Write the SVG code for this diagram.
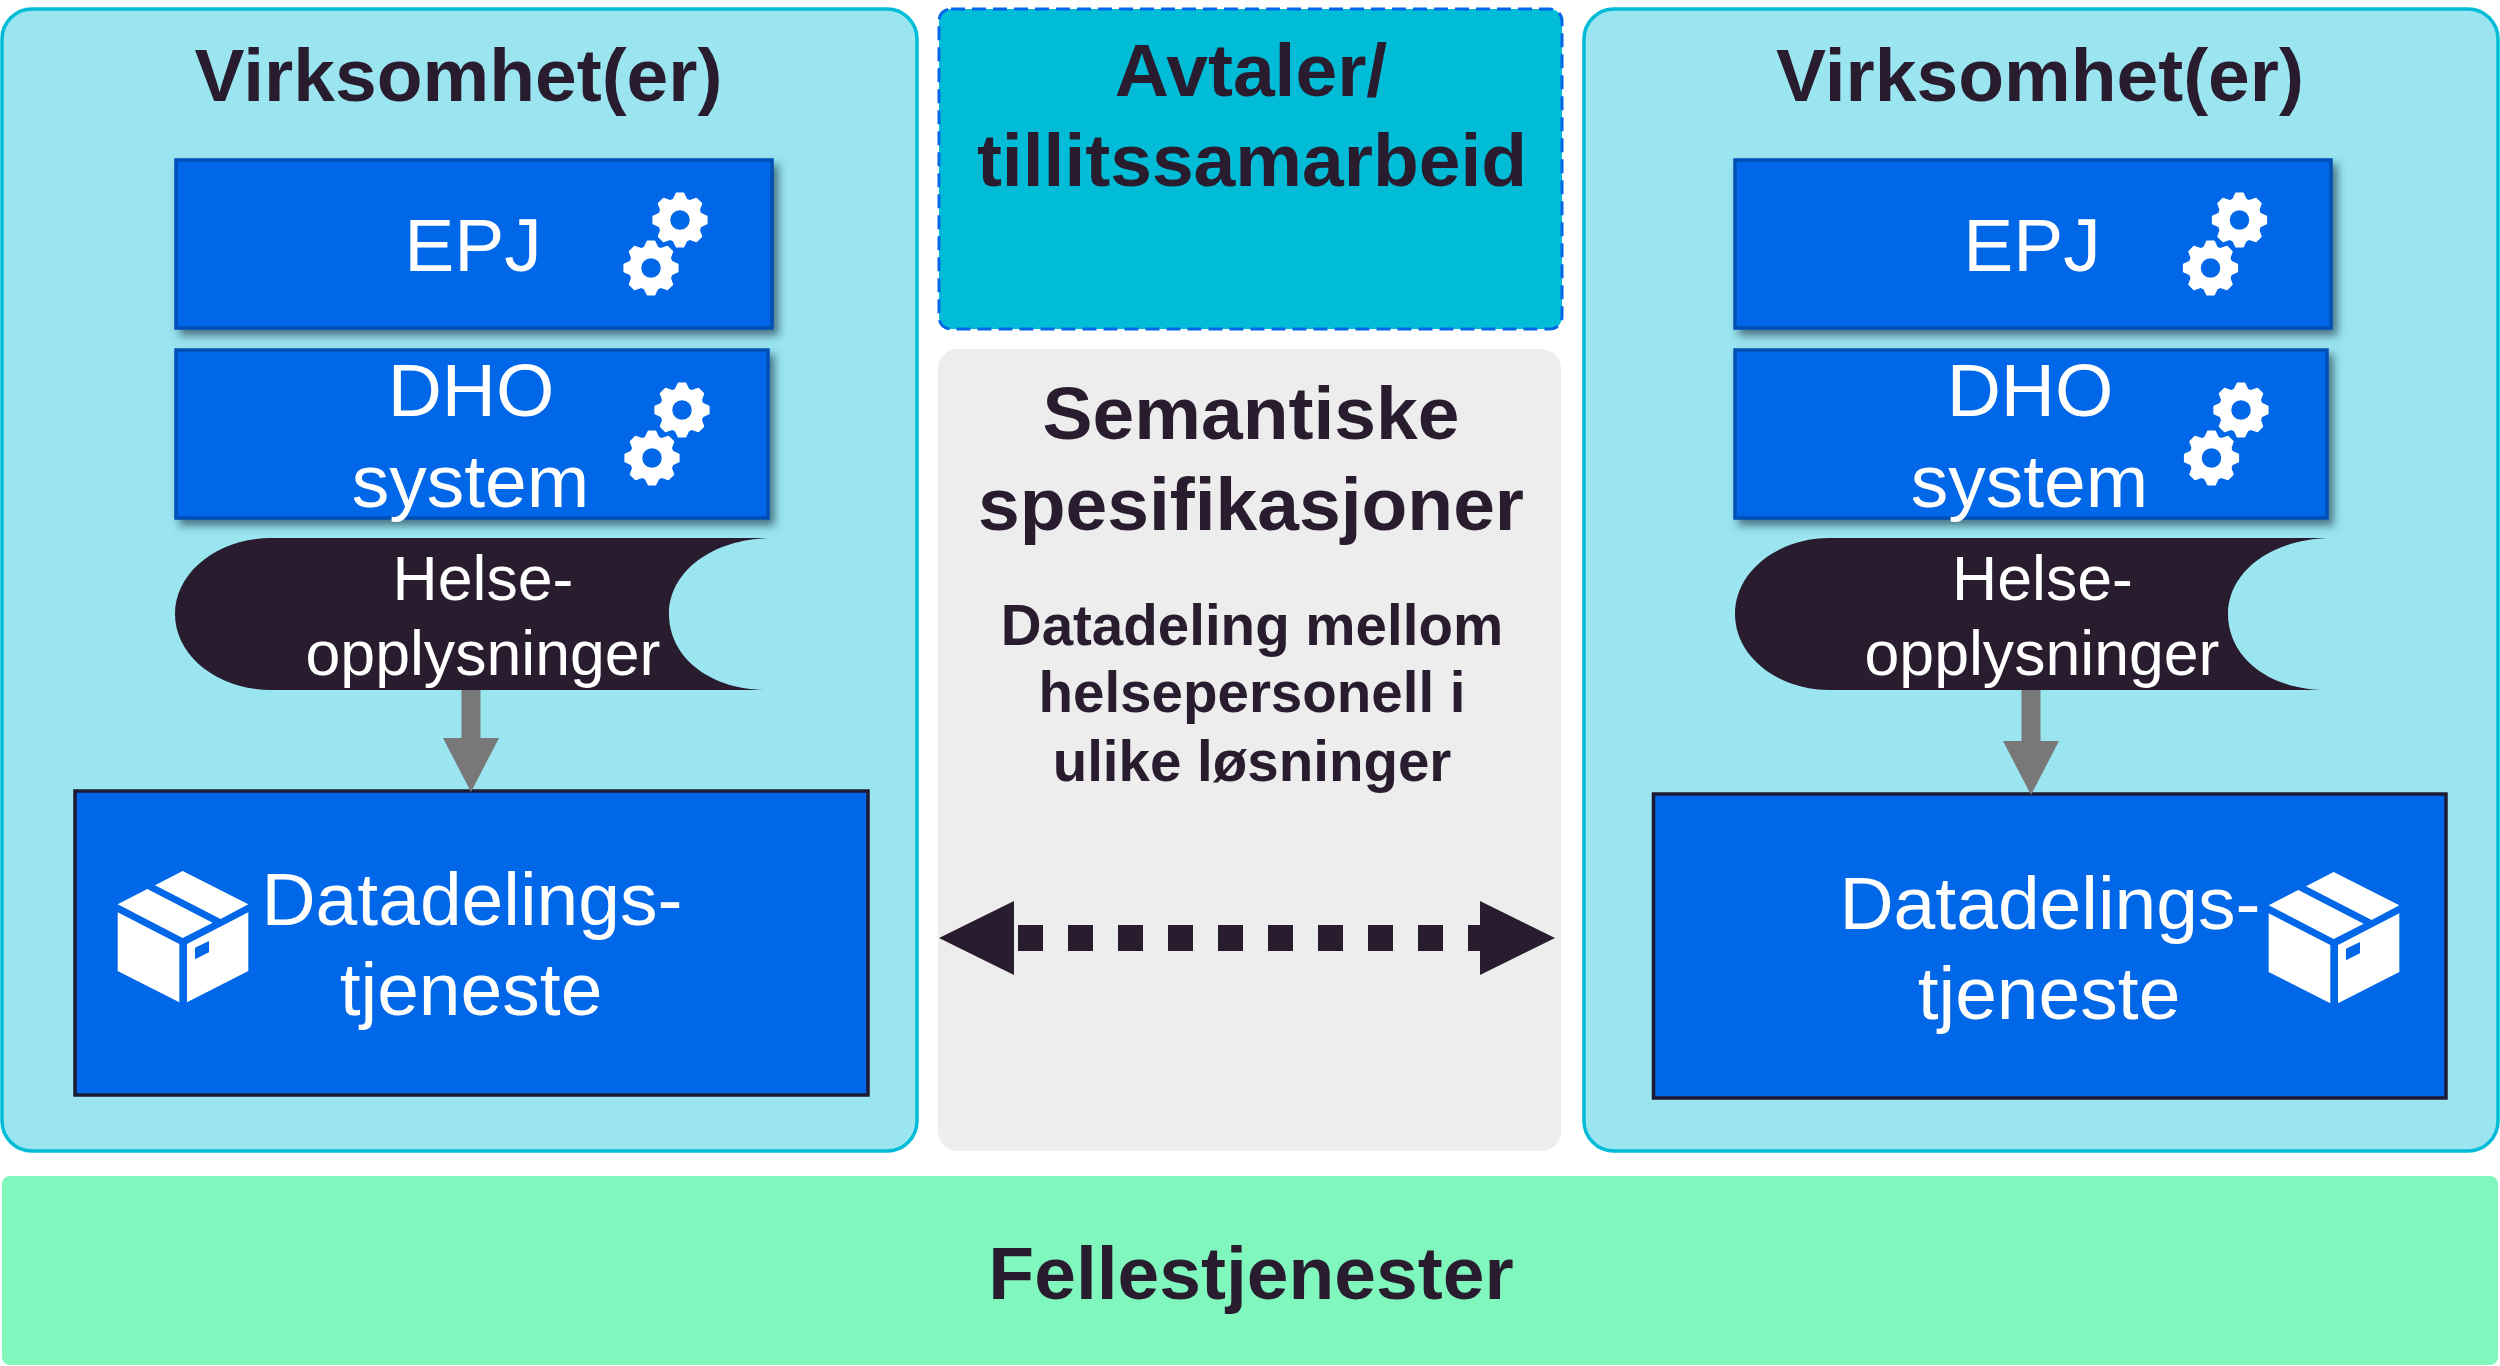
<svg xmlns="http://www.w3.org/2000/svg" xmlns:xlink="http://www.w3.org/1999/xlink" width="2500" height="1366" viewBox="0 0 2500 1366">
<style>
text{font-family:"Liberation Sans",Arial,sans-serif;text-anchor:middle}
.h{font-weight:700;font-size:75px;fill:#281C2E}
.s{font-weight:700;font-size:56.5px;fill:#281C2E}
.w{fill:#fff;font-size:75px}
.m{fill:#fff;font-size:62.6px}
.panel{fill:#9BE5F0;stroke:#00BCD6;stroke-width:3.5}
.sys{fill:#0068E8;stroke:#0050B4;stroke-width:3.5;filter:url(#sh)}
.svc{fill:#0068E8;stroke:#1E1A33;stroke-width:3.5}
.data{fill:#281C2E}
</style>
<defs>
<filter id="sh" x="-5%" y="-10%" width="110%" height="125%"><feDropShadow dx="5" dy="6" stdDeviation="4" flood-color="#1a3a50" flood-opacity="0.65"/></filter>
<path id="tooth" d="M-7,-20 L-3.6,-27 H3.6 L7,-20Z" fill="#fff" stroke="#fff" stroke-width="1.2" stroke-linejoin="round"/>
<g id="gear">
<circle r="16" fill="none" stroke="#fff" stroke-width="12.5"/>
<use xlink:href="#tooth" href="#tooth"/>
<use xlink:href="#tooth" href="#tooth" transform="rotate(45)"/>
<use xlink:href="#tooth" href="#tooth" transform="rotate(90)"/>
<use xlink:href="#tooth" href="#tooth" transform="rotate(135)"/>
<use xlink:href="#tooth" href="#tooth" transform="rotate(180)"/>
<use xlink:href="#tooth" href="#tooth" transform="rotate(225)"/>
<use xlink:href="#tooth" href="#tooth" transform="rotate(270)"/>
<use xlink:href="#tooth" href="#tooth" transform="rotate(315)"/>
</g>
<path id="pkg" fill="#fff" fill-rule="evenodd" d="M248,63 L445,163 L362,207 L165,106Z M142,117 L338,218 L248,264 L53,163Z M53,187 L238,282 V457 L53,363Z M445,187 V363 L261,457 V282Z M285,293 V328 L327,307 V273Z"/>
<marker id="hl" markerUnits="userSpaceOnUse" markerWidth="76" markerHeight="76" viewBox="0 0 76 76" refX="75" refY="38" orient="0"><path d="M0,38 L75,1 V75Z" fill="#281C2E"/></marker>
<marker id="hr" markerUnits="userSpaceOnUse" markerWidth="76" markerHeight="76" viewBox="0 0 76 76" refX="0" refY="38" orient="0"><path d="M0,1 L75,38 L0,75Z" fill="#281C2E"/></marker>
<marker id="hg" markerUnits="userSpaceOnUse" markerWidth="56" markerHeight="54" viewBox="0 0 56 54" refX="28" refY="0" orient="0"><path d="M0,0 H56 L28,54Z" fill="#787878"/></marker>
</defs>
<rect width="2500" height="1366" fill="#fff"/>

<g id="panel-left">
<rect class="panel" x="2" y="9" width="915" height="1142" rx="30" ry="30"/>
<text class="h" x="458.5" y="101">Virksomhet(er)</text>
</g>
<g id="panel-right">
<rect class="panel" x="1584" y="9" width="914" height="1142" rx="30" ry="30"/>
<text class="h" x="2040" y="101">Virksomhet(er)</text>
</g>
<g id="avtaler">
<rect x="939" y="9" width="623" height="320" rx="12" fill="#00BCD6" stroke="#0068E8" stroke-width="3" stroke-dasharray="14 7"/>
<text class="h" x="1251" y="96">Avtaler/</text>
<text class="h" x="1252" y="186">tillitssamarbeid</text>
</g>
<g id="semantiske">
<rect x="938" y="349" width="623" height="802" rx="20" fill="#EDEDED"/>
<text class="h" x="1251" y="439">Semantiske</text>
<text class="h" x="1251" y="530">spesifikasjoner</text>
<text class="s" x="1252" y="645">Datadeling mellom</text>
<text class="s" x="1252" y="712">helsepersonell i</text>
<text class="s" x="1252" y="781">ulike løsninger</text>
</g>
<g id="fellestjenester">
<rect x="2" y="1176" width="2496" height="189" rx="8" fill="#7FF7BD"/>
<text class="h" x="1251" y="1299">Fellestjenester</text>
</g>

<g id="epj-left">
<rect class="sys" x="176" y="160" width="596" height="168"/>
<text class="w" x="473" y="271">EPJ</text>
<use xlink:href="#gear" href="#gear" x="680" y="220"/>
<use xlink:href="#gear" href="#gear" x="651" y="268"/>
</g>
<g id="dho-left">
<rect class="sys" x="176" y="350" width="592" height="168"/>
<text class="w" x="471" y="416">DHO</text>
<text class="w" x="470.500" y="507">system</text>
<use xlink:href="#gear" href="#gear" x="682" y="410"/>
<use xlink:href="#gear" href="#gear" x="652" y="458"/>
</g>
<g id="helse-left">
<path class="data" d="M271,538 H774 C712,538 669,572 669,614 C669,656 708,690 768,690 H271 C218,690 175,656 175,614 C175,572 218,538 271,538Z"/>
<text class="m" x="483" y="600">Helse-</text>
<text class="m" x="483" y="675">opplysninger</text>
</g>
<g id="datadeling-left">
<rect class="svc" x="75" y="791" width="793" height="304"/>
<text class="w" x="472" y="925">Datadelings-</text>
<text class="w" x="471" y="1015">tjeneste</text>
<use xlink:href="#pkg" href="#pkg" transform="translate(100,850) scale(.3333)"/>
</g>

<g id="epj-right">
<rect class="sys" x="1735" y="160" width="596" height="168"/>
<text class="w" x="2032" y="271">EPJ</text>
<use xlink:href="#gear" href="#gear" x="2239.500" y="220"/>
<use xlink:href="#gear" href="#gear" x="2210.500" y="268"/>
</g>
<g id="dho-right">
<rect class="sys" x="1735" y="350" width="592" height="168"/>
<text class="w" x="2030" y="416">DHO</text>
<text class="w" x="2029.500" y="507">system</text>
<use xlink:href="#gear" href="#gear" x="2241" y="410"/>
<use xlink:href="#gear" href="#gear" x="2211.500" y="458"/>
</g>
<g id="helse-right">
<path class="data" d="M1830,538 H2333 C2271,538 2228,572 2228,614 C2228,656 2267,690 2327,690 H1830 C1777,690 1735,656 1735,614 C1735,572 1777,538 1830,538Z"/>
<text class="m" x="2042.500" y="600">Helse-</text>
<text class="m" x="2042" y="675">opplysninger</text>
</g>
<g id="datadeling-right">
<rect class="svc" x="1653.500" y="794" width="792.500" height="304"/>
<text class="w" x="2050" y="929">Datadelings-</text>
<text class="w" x="2049" y="1019">tjeneste</text>
<use xlink:href="#pkg" href="#pkg" transform="translate(2251,851) scale(.3333)"/>
</g>

<g id="connectors">
<line x1="471" y1="690" x2="471" y2="738" stroke="#787878" stroke-width="19" marker-end="url(#hg)"/>
<line x1="2031" y1="690" x2="2031" y2="741" stroke="#787878" stroke-width="19" marker-end="url(#hg)"/>
<line x1="1014" y1="938" x2="1480" y2="938" stroke="#281C2E" stroke-width="26" stroke-dasharray="25 25" stroke-dashoffset="46" marker-start="url(#hl)" marker-end="url(#hr)"/>
</g>
</svg>
